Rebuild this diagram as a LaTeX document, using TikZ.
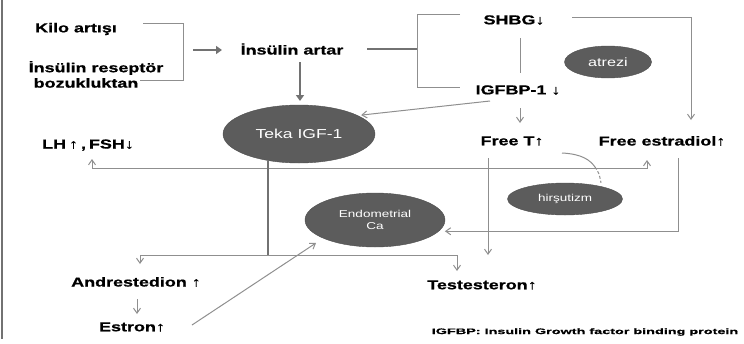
\documentclass[tikz,border=0pt]{standalone}
\usepackage{fontspec}
\setmainfont{Liberation Sans}
\newfontfamily\lblfont[FakeStretch=1.38,FakeBold=0.8]{Liberation Sans Bold}
\newfontfamily\notefont[FakeStretch=1.8,FakeBold=0.6]{Liberation Sans Bold}
\newfontfamily\blobfont[FakeStretch=1.35]{Liberation Sans}
\usetikzlibrary{arrows.meta,shapes.geometric}
\definecolor{linegray}{HTML}{8F8F8F}
\definecolor{darkline}{HTML}{727272}
\definecolor{blobfill}{HTML}{5C5C5C}
\begin{document}
\begin{tikzpicture}[x=1pt,y=-1pt,
  lbl/.style={font=\lblfont\fontsize{13}{14}\selectfont, inner sep=1pt},
  blob/.style={ellipse, fill=blobfill, draw=blobfill!85!black, text=white,
    inner sep=0pt, font=\blobfont\fontsize{11}{12}\selectfont},
  conn/.style={draw=linegray, line width=1pt},
  heavy/.style={draw=darkline, line width=2.6pt},
  tip/.style={-{Straight Barb[length=5pt,width=7pt]}},
  bigtip/.style={-{Triangle[length=6pt,width=8pt]}}
]
\path[use as bounding box] (0,0) rectangle (744,343);
% page frame on the left
\draw[darkline, line width=1.4pt] (2,0) -- (2,339);

% text labels
\node[lbl] (kilo)   at (76,29)  {Kilo artışı};
\node[lbl] (insA)   at (96,68)  {İnsülin reseptör};
\node[lbl] (insB)   at (86,83)  {bozukluktan};
\node[lbl] (artar)  at (292,49) {İnsülin artar};
\node[lbl] (shbg)   at (514,20) {SHBG↓};
\node[lbl] (igfbp)  at (518,90) {IGFBP-1 ↓};
\node[lbl] (lh)     at (88,145) {LH\hspace{3pt}↑\hspace{3pt},\hspace{3pt}FSH↓};
\node[lbl] (freet)  at (512,141) {Free T↑};
\node[lbl] (freee)  at (662,141) {Free estradiol↑};
\node[lbl] (andro)  at (136,282) {Andrestedion ↑};
\node[lbl] (estron) at (132,327) {Estron↑};
\node[lbl] (testo)  at (482,285) {Testesteron↑};
\node[inner sep=1pt, font=\notefont\fontsize{8}{9}\selectfont] (note) at (585,332)
  {IGFBP: Insulin Growth factor binding protein};

% filled ellipses
\node[blob, minimum width=87, minimum height=32, font=\blobfont\fontsize{12}{13}\selectfont]
  (atrezi) at (608,62) {atrezi};
\node[blob, minimum width=152, minimum height=58, font=\blobfont\fontsize{13}{14}\selectfont]
  (teka) at (299,134) {Teka IGF-1};
\node[blob, minimum width=115, minimum height=32, font=\blobfont\fontsize{10}{11}\selectfont]
  (hirs) at (565,199) {hirşutizm};
\node[blob, minimum width=140, minimum height=54, align=center,
  font=\blobfont\fontsize{10}{12}\selectfont] (endo) at (375,220) {Endometrial\\Ca};

% left bracket joining the two causes
\coordinate (lbT) at (143,23);
\coordinate (lbB) at (140,80);
\coordinate (lbM) at (193,50);
\draw[conn] (lbT) -| (183,80) -- (lbB);
\draw[heavy, bigtip] (lbM) -- (222,50);

% right bracket splitting to SHBG and IGFBP-1
\coordinate (rbS) at (367,49);
\coordinate (rbT) at (460,14);
\coordinate (rbB) at (460,87);
\draw[heavy] (rbS) -- (417,49);
\draw[conn] (rbT) -- (417,14) -- (417,87) -- (rbB);

\draw[conn] (520,38) -- (520,73);

% SHBG to free estradiol
\coordinate (shR) at (572,17);
\draw[conn, tip] (shR) -| (691,120);

% insulin to theca
\draw[heavy, bigtip] (300,62) -- (300,101);

% IGFBP-1 to theca and free T
\draw[conn, tip] (490,101) -- ([xshift=4pt]teka.18);
\draw[conn, tip] (520,108) -- (520,123);

% feedback line between LH/FSH and free estradiol
\draw[conn, {Straight Barb[length=5pt,width=7pt]}-{Straight Barb[length=5pt,width=7pt]}]
  (92,159) |- (647,168) -- (647,160);

% free T to hirsutism
\coordinate (hcA) at (562,153);
\coordinate (hcB) at (595,167);
\draw[conn] (hcA) .. controls (582,154) and (590,160) .. (hcB);
\draw[conn, dash pattern=on 3pt off 2pt] (hcB) .. controls (599,173) .. (hirs.north -| 601,0);

% theca to androgens
\draw[heavy] (teka.south -| 268,0) ++(0,-2) -- (268,255);
\draw[conn, {Straight Barb[length=5pt,width=7pt]}-{Straight Barb[length=5pt,width=7pt]}]
  (140,264) |- (457,255) -- (457,271);

% free T down to testosterone
\draw[conn, tip] (488,158) -- (488,255);

% free estradiol to endometrial Ca
\draw[conn, tip] (678,158) |- ([xshift=6pt]endo.-10);

% androstenedione to estrone, estrone to endometrial Ca
\draw[conn, tip] (137,299) -- (137,314);
\coordinate (endoTip) at (316,243);
\draw[conn, tip] (192,325) -- (endoTip);
\end{tikzpicture}
\end{document}
